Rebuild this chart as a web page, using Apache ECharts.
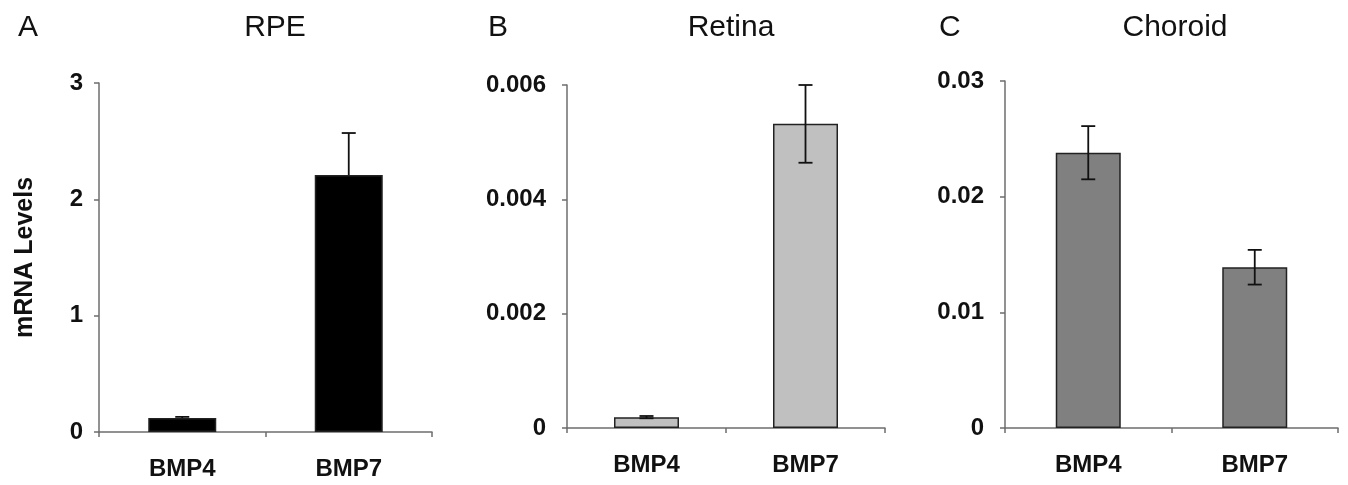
<!DOCTYPE html>
<html>
<head>
<meta charset="utf-8">
<script src="https://cdn.jsdelivr.net/npm/echarts@6/dist/echarts.min.js"></script>
<style>
  html, body { margin: 0; padding: 0; background: #fff; }
  #chart { width: 1348px; height: 485px; }
</style>
</head>
<body>
<div id="chart"></div>
<script>
// data
const categories = ['BMP4', 'BMP7']
const panelLetters = ['A', 'B', 'C']
const panelTitles = ['RPE', 'Retina', 'Choroid']

const rpeMean = [0.12, 2.21]
const rpeErr = [0.01, 0.36]
const retinaMean = [0.00019, 0.00532]
const retinaErr = [0.00002, 0.00068]
const choroidMean = [0.0238, 0.0139]
const choroidErr = [0.0023, 0.0015]

const yMax = [3, 0.006, 0.03]
const yStep = [1, 0.002, 0.01]

const means = [rpeMean, retinaMean, choroidMean]
const errs = [rpeErr, retinaErr, choroidErr]
const barColors = ['#000000', '#c0c0c0', '#808080']

const grids = [
  { left: 99, top: 83, width: 333, height: 349 },
  { left: 567, top: 85, width: 318, height: 343 },
  { left: 1005, top: 81, width: 333, height: 347 }
]
const titlePos = [
  { letterX: 13, titleX: 270 },
  { letterX: 483, titleX: 726 },
  { letterX: 934, titleX: 1170 }
]
const labelGap = [16, 21, 21]

const font = 'Liberation Sans, Arial, sans-serif'
const axisColor = '#6e6e6e'

const chart = echarts.init(document.getElementById('chart'))

const title = []
titlePos.forEach((p, i) => {
  title.push({
    text: panelLetters[i], left: p.letterX, top: 8,
    textStyle: { fontFamily: font, fontSize: 30, fontWeight: 'normal', color: '#111' }
  })
  title.push({
    text: panelTitles[i], left: p.titleX, top: 8, textAlign: 'center',
    textStyle: { fontFamily: font, fontSize: 30, fontWeight: 'normal', color: '#111' }
  })
})

const xAxis = grids.map((g, i) => ({
  type: 'category',
  gridIndex: i,
  data: categories,
  boundaryGap: true,
  axisLine: { lineStyle: { color: axisColor, width: 1.5 } },
  axisTick: { show: true, alignWithLabel: false, length: 5, lineStyle: { color: axisColor, width: 1.5 } },
  axisLabel: { margin: 25, color: '#111', fontFamily: font, fontWeight: 'bold', fontSize: 24 }
}))

const yAxis = grids.map((g, i) => ({
  type: 'value',
  gridIndex: i,
  min: 0,
  max: yMax[i],
  interval: yStep[i],
  name: i === 0 ? 'mRNA Levels' : '',
  nameLocation: 'middle',
  nameGap: 61,
  nameTextStyle: { fontFamily: font, fontWeight: 'bold', fontSize: 25, color: '#111' },
  splitLine: { show: false },
  axisLine: { show: true, lineStyle: { color: axisColor, width: 1.5 } },
  axisTick: { show: true, length: 5, lineStyle: { color: axisColor, width: 1.5 } },
  axisLabel: { margin: labelGap[i], color: '#111', fontFamily: font, fontWeight: 'bold', fontSize: 24 }
}))

const series = []
means.forEach((m, i) => {
  series.push({
    type: 'bar',
    xAxisIndex: i,
    yAxisIndex: i,
    data: m,
    barWidth: i === 0 ? 68 : 65,
    itemStyle: { color: barColors[i], borderColor: '#222', borderWidth: 1.5 },
    z: 3
  })
  series.push({
    type: 'custom',
    xAxisIndex: i,
    yAxisIndex: i,
    data: m.map((v, k) => [k, v - errs[i][k], v + errs[i][k]]),
    z: i === 0 ? 2 : 4,
    renderItem: (params, api) => {
      const lo = api.coord([api.value(0), api.value(1)])
      const hi = api.coord([api.value(0), api.value(2)])
      const half = 7
      const style = { stroke: '#111', lineWidth: 1.8 }
      return {
        type: 'group',
        children: [
          { type: 'line', shape: { x1: hi[0], y1: hi[1], x2: lo[0], y2: lo[1] }, style },
          { type: 'line', shape: { x1: hi[0] - half, y1: hi[1], x2: hi[0] + half, y2: hi[1] }, style },
          { type: 'line', shape: { x1: lo[0] - half, y1: lo[1], x2: lo[0] + half, y2: lo[1] }, style }
        ]
      }
    }
  })
})

const option = {
  animation: false,
  backgroundColor: '#fff',
  title,
  grid: grids,
  xAxis,
  yAxis,
  series
}
chart.setOption(option)

window.addEventListener('resize', () => {
  chart.resize()
})
</script>
</body>
</html>
